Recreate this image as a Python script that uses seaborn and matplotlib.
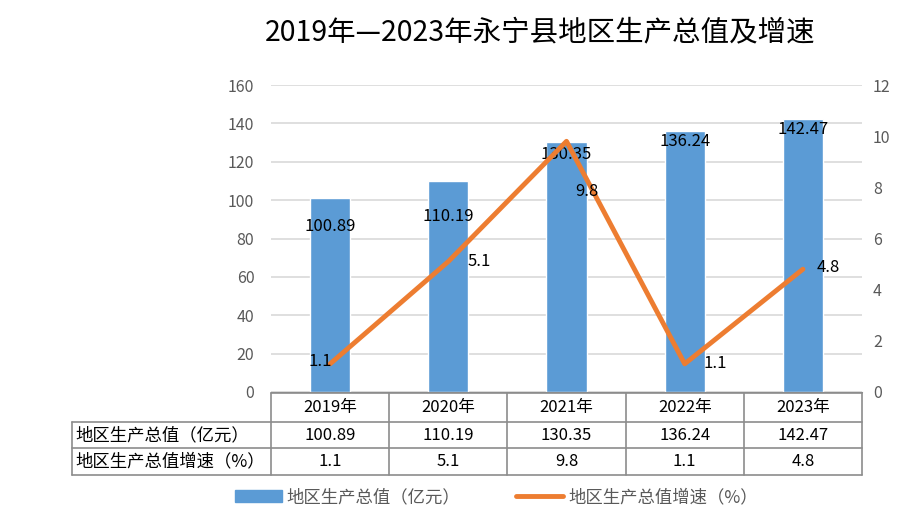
import matplotlib
matplotlib.use('Agg')
import matplotlib.pyplot as plt
import matplotlib.transforms as mtransforms
from matplotlib.lines import Line2D
from matplotlib.patches import Patch
import seaborn as sns
import numpy as np
import pandas as pd

years = ["2019年", "2020年", "2021年", "2022年", "2023年"]
gdp = [100.89, 110.19, 130.35, 136.24, 142.47]
growth = [1.1, 5.1, 9.8, 1.1, 4.8]
gdp_name = "地区生产总值（亿元）"
growth_name = "地区生产总值增速（%）"
title = "2019年—2023年永宁县地区生产总值及增速"

sns.set_style("white")
plt.rcParams['font.family'] = ['Noto Sans CJK SC', 'DejaVu Sans']

blue = "#5B9BD5"
orange = "#ED7D31"
grey_txt = "#595959"
line_col = "#8C8C8C"

df = pd.DataFrame({"year": years, "gdp": gdp, "growth": growth})

fig = plt.figure(figsize=(9.24, 5.14), dpi=100)
ax = fig.add_axes([271/924, 1-392/514, (862-271)/924, (392-85)/514])

sns.barplot(data=df, x="year", y="gdp", color=blue, width=0.34, ax=ax, saturation=1)
ax.set_xlim(-0.5, len(years)-0.5)
ax.set_ylim(0, 160)
ax.set_yticks(np.arange(0, 161, 20))
ax.grid(axis='y', color="#D9D9D9", lw=1.2)
ax.set_axisbelow(True)
ax.set_xlabel("")
ax.set_ylabel("")
ax.set_xticklabels([])
ax.tick_params(axis='x', direction='out', length=4, color=line_col, width=1)
ax.tick_params(axis='y', length=0, labelsize=11.5, labelcolor=grey_txt, pad=12)
for s in ["top", "left", "right"]:
    ax.spines[s].set_visible(False)
ax.spines["bottom"].set_color(line_col)

ax2 = ax.twinx()
sns.lineplot(x=np.arange(len(years)), y=growth, color=orange, lw=3.5, ax=ax2)
ax2.set_ylim(0, 12)
ax2.set_yticks(np.arange(0, 13, 2))
ax2.tick_params(axis='y', length=0, labelsize=11.5, labelcolor=grey_txt, pad=8)
for s in ["top", "left", "right", "bottom"]:
    ax2.spines[s].set_visible(False)
ax2.grid(False)

# data labels (offsets in points, like Excel's auto placement)
bar_off = [-20, -26, -9, -8, -8]
for i, v in enumerate(gdp):
    ax.annotate(f"{v:.2f}", (i, v), xytext=(0, bar_off[i]), textcoords="offset points",
                ha="center", va="center", fontsize=12, color="black")
line_off = [(-7, 2), (22, 0), (15, -36), (22, 0), (18, 1)]
for i, v in enumerate(growth):
    ax2.annotate(f"{v}", (i, v), xytext=line_off[i], textcoords="offset points",
                 ha="center", va="center", fontsize=12, color="black")

# data table under the chart
trans = mtransforms.blended_transform_factory(ax.transData, fig.transFigure)
fy = lambda px: 1 - px/514
fx = lambda px: px/924
rows_y = [393, 422, 448, 475]
x_left, x_axis, x_right = 72, 271, 862
kw = dict(color=line_col, lw=1.2, transform=fig.transFigure)
fig.add_artist(Line2D([fx(x_axis), fx(x_right)], [fy(rows_y[0])]*2, **kw))
for y in rows_y[1:]:
    fig.add_artist(Line2D([fx(x_left), fx(x_right)], [fy(y)]*2, **kw))
fig.add_artist(Line2D([fx(x_left)]*2, [fy(rows_y[1]), fy(rows_y[3])], **kw))
for i in range(len(years)+1):
    fig.add_artist(Line2D([i-0.5]*2, [fy(rows_y[0]), fy(rows_y[3])], color=line_col, lw=1.2,
                          transform=trans))
row_vals = [years, [f"{v:.2f}" for v in gdp], [f"{v}" for v in growth]]
for r, vals in enumerate(row_vals):
    yc = fy((rows_y[r] + rows_y[r+1]) / 2)
    for i, t in enumerate(vals):
        fig.text(i, yc, t, transform=trans, ha="center", va="center", fontsize=12, color="black")
for r, name in enumerate([gdp_name, growth_name]):
    yc = fy((rows_y[r+1] + rows_y[r+2]) / 2)
    fig.text(fx(75), yc, name, ha="left", va="center", fontsize=12.5, color="black")

fig.text(0.585, fy(32), title, ha="center", va="center", fontsize=20.5, color="black")

handles = [Patch(color=blue, label=gdp_name), Line2D([], [], color=orange, lw=3.5, label=growth_name)]
fig.legend(handles=handles, loc="center", bbox_to_anchor=(0.537, fy(497)), ncol=2, frameon=False,
           fontsize=12.5, labelcolor=grey_txt, handlelength=2.7, handletextpad=0.3,
           columnspacing=3.2)

fig.savefig("out.png", dpi=100)
